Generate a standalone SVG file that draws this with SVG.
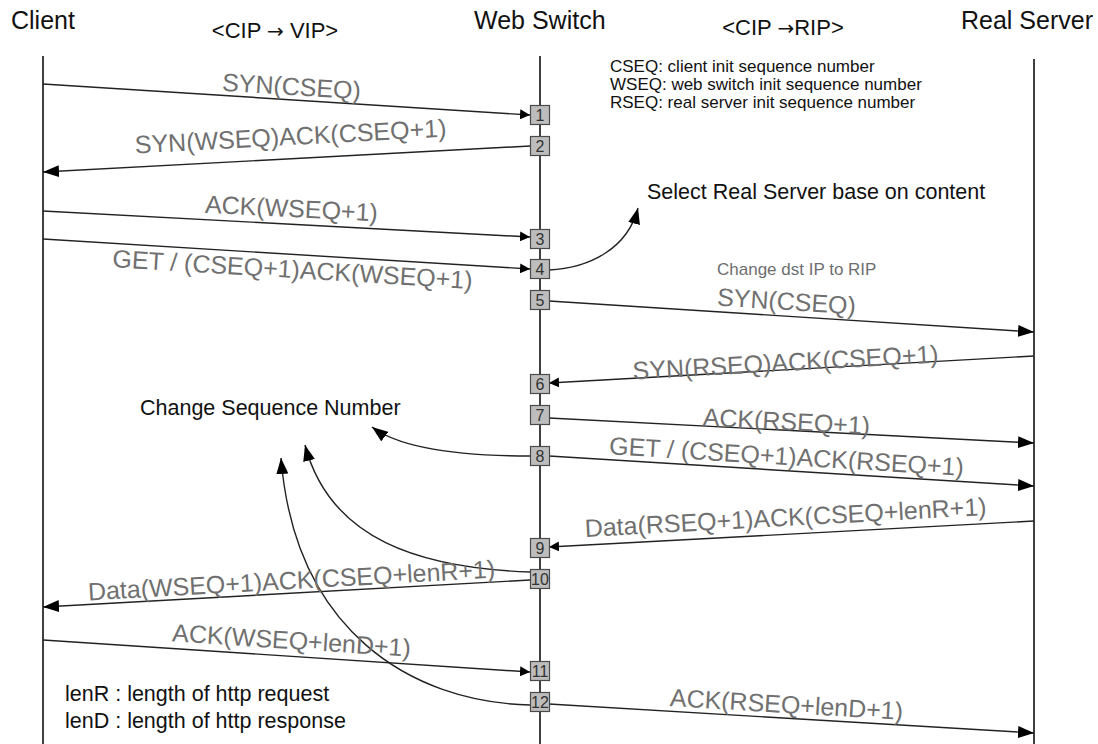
<svg xmlns="http://www.w3.org/2000/svg" width="1098" height="744" viewBox="0 0 1098 744">
<style>
.title{font-family:"Liberation Sans",Arial,sans-serif;font-size:25px;fill:#111}
.sub{font-family:"Liberation Sans",Arial,sans-serif;font-size:22px;fill:#111}
.arr{font-family:"DejaVu Sans",sans-serif;font-size:20px}
.note{font-family:"Liberation Sans",Arial,sans-serif;font-size:21.5px;fill:#111}
.legend{font-family:"Liberation Sans",Arial,sans-serif;font-size:17px;fill:#111}
.msg{font-family:"Liberation Sans",Arial,sans-serif;font-size:25px;fill:#707070;text-anchor:middle}
.small{font-family:"Liberation Sans",Arial,sans-serif;font-size:17px;fill:#6e6e6e}
.life{stroke:#000;stroke-width:1.5;fill:none}
.box rect{fill:#bdbdbd;stroke:#4a4a4a;stroke-width:1.2}
.box text{font-family:"Liberation Sans",Arial,sans-serif;font-size:16px;fill:#333;text-anchor:middle}
.line{stroke:#222;stroke-width:1.4;fill:none}
</style>
<defs>
<marker id="ah" markerUnits="userSpaceOnUse" markerWidth="16" markerHeight="12" refX="16" refY="6" orient="auto"><path d="M0,0 L16,6 L0,12 z" fill="#000"/></marker>
<marker id="ahs" markerUnits="userSpaceOnUse" markerWidth="10" markerHeight="10" refX="10" refY="5" orient="auto"><path d="M0,0 L10,5 L0,10 z" fill="#000"/></marker>
</defs>
<rect width="1098" height="744" fill="#fff"/>

<g id="client">
<text class="title" x="11" y="29">Client</text>
<line class="life" x1="43" y1="56" x2="43" y2="744"/>
</g>
<g id="webswitch">
<text class="title" x="474" y="29">Web Switch</text>
<line class="life" x1="540" y1="56" x2="540" y2="744"/>
</g>
<g id="realserver">
<text class="title" x="1093" y="29" text-anchor="end">Real Server</text>
<line class="life" x1="1034" y1="59" x2="1034" y2="744"/>
</g>

<text class="sub" x="275" y="38" text-anchor="middle">&lt;CIP <tspan class="arr">→</tspan> VIP&gt;</text>
<text class="sub" x="783" y="35" text-anchor="middle">&lt;CIP <tspan class="arr">→</tspan>RIP&gt;</text>

<g id="legend-top">
<text class="legend" x="610" y="72">CSEQ: client init sequence number</text>
<text class="legend" x="610" y="90">WSEQ: web switch init sequence number</text>
<text class="legend" x="610" y="108">RSEQ: real server init sequence number</text>
</g>
<g id="legend-bottom">
<text class="note" x="65" y="701">lenR : length of http request</text>
<text class="note" x="65" y="728">lenD : length of http response</text>
</g>
<text class="note" x="647" y="199">Select Real Server base on content</text>
<text class="note" x="140" y="415">Change Sequence Number</text>
<text class="small" x="717" y="275">Change dst IP to RIP</text>

<g id="connectors">
<line class="line" x1="43" y1="84" x2="530" y2="115" marker-end="url(#ahs)"/>
<line class="line" x1="530" y1="146" x2="43" y2="172" marker-end="url(#ah)"/>
<line class="line" x1="43" y1="211" x2="530" y2="237" marker-end="url(#ahs)"/>
<line class="line" x1="43" y1="239" x2="530" y2="269" marker-end="url(#ahs)"/>
<path class="line" d="M549,270 C590,268 628,248 638,208" marker-end="url(#ah)"/>
<line class="line" x1="549" y1="301" x2="1034" y2="332" marker-end="url(#ah)"/>
<line class="line" x1="1034" y1="356" x2="549" y2="383" marker-end="url(#ahs)"/>
<line class="line" x1="549" y1="418" x2="1034" y2="443" marker-end="url(#ah)"/>
<line class="line" x1="549" y1="456" x2="1034" y2="486" marker-end="url(#ah)"/>
<path class="line" d="M530,456 C460,456 400,448 372,427" marker-end="url(#ah)"/>
<line class="line" x1="1034" y1="521" x2="549" y2="547" marker-end="url(#ahs)"/>
<path class="line" d="M530,572 C420,568 330,540 305,445" marker-end="url(#ah)"/>
<line class="line" x1="530" y1="580" x2="43" y2="607" marker-end="url(#ah)"/>
<line class="line" x1="43" y1="640" x2="530" y2="672" marker-end="url(#ahs)"/>
<path class="line" d="M530,705 C410,702 295,630 281,458" marker-end="url(#ah)"/>
<line class="line" x1="549" y1="704" x2="1034" y2="733" marker-end="url(#ah)"/>
</g>

<g id="labels">
<text class="msg" transform="translate(291,95) rotate(3.6)">SYN(CSEQ)</text>
<text class="msg" transform="translate(291,145) rotate(-3.1)">SYN(WSEQ)ACK(CSEQ+1)</text>
<text class="msg" transform="translate(291,217) rotate(2.9)">ACK(WSEQ+1)</text>
<text class="msg" transform="translate(292,278) rotate(3.5)">GET / (CSEQ+1)ACK(WSEQ+1)</text>
<text class="msg" transform="translate(786,310) rotate(3.7)">SYN(CSEQ)</text>
<text class="msg" transform="translate(786,371) rotate(-3.2)">SYN(RSEQ)ACK(CSEQ+1)</text>
<text class="msg" transform="translate(786,430) rotate(3)">ACK(RSEQ+1)</text>
<text class="msg" transform="translate(786,465) rotate(3.5)">GET / (CSEQ+1)ACK(RSEQ+1)</text>
<text class="msg" transform="translate(786,526) rotate(-3.1)">Data(RSEQ+1)ACK(CSEQ+lenR+1)</text>
<text class="msg" transform="translate(292,589) rotate(-3.2)">Data(WSEQ+1)ACK(CSEQ+lenR+1)</text>
<text class="msg" transform="translate(291,649) rotate(3.7)">ACK(WSEQ+lenD+1)</text>
<text class="msg" transform="translate(786,713) rotate(3.4)">ACK(RSEQ+lenD+1)</text>
</g>

<g id="step1" class="box"><rect x="530.5" y="105.5" width="19" height="19"/><text x="540" y="121">1</text></g>
<g id="step2" class="box"><rect x="530.5" y="136.5" width="19" height="19"/><text x="540" y="152">2</text></g>
<g id="step3" class="box"><rect x="530.5" y="229.5" width="19" height="19"/><text x="540" y="245">3</text></g>
<g id="step4" class="box"><rect x="530.5" y="259.5" width="19" height="19"/><text x="540" y="275">4</text></g>
<g id="step5" class="box"><rect x="530.5" y="290.5" width="19" height="19"/><text x="540" y="306">5</text></g>
<g id="step6" class="box"><rect x="530.5" y="374.5" width="19" height="19"/><text x="540" y="390">6</text></g>
<g id="step7" class="box"><rect x="530.5" y="405.5" width="19" height="19"/><text x="540" y="421">7</text></g>
<g id="step8" class="box"><rect x="530.5" y="446.5" width="19" height="19"/><text x="540" y="462">8</text></g>
<g id="step9" class="box"><rect x="530.5" y="538.5" width="19" height="19"/><text x="540" y="554">9</text></g>
<g id="step10" class="box"><rect x="530.5" y="569.5" width="19" height="19"/><text x="540" y="585">10</text></g>
<g id="step11" class="box"><rect x="530.5" y="661.5" width="19" height="19"/><text x="540" y="677">11</text></g>
<g id="step12" class="box"><rect x="530.5" y="692.5" width="19" height="19"/><text x="540" y="708">12</text></g>
</svg>
